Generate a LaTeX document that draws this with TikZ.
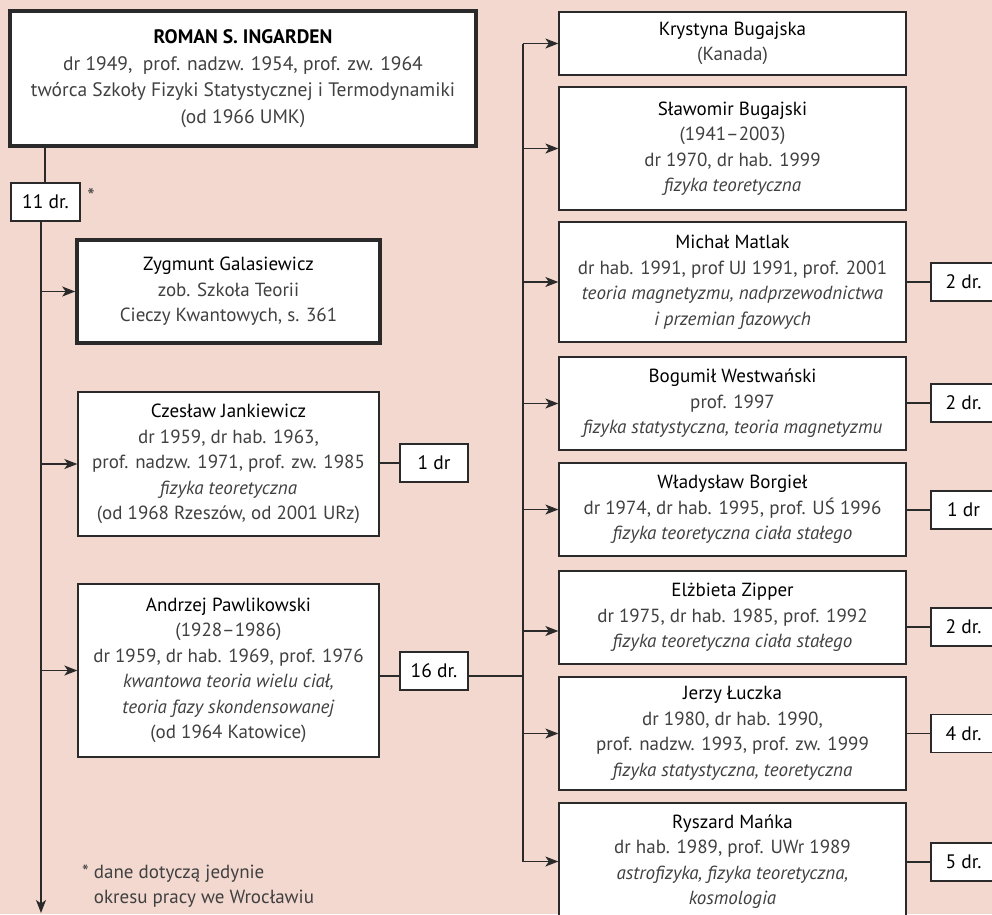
\documentclass[tikz,border=0pt]{standalone}
\usepackage{fontspec}
\setmainfont{PT Sans}
\usetikzlibrary{arrows.meta,calc}
\definecolor{bgpink}{HTML}{F2D8CF}
\definecolor{ink}{HTML}{2A2A2A}
\definecolor{bodytext}{HTML}{404040}
\tikzset{
  every picture/.style={x=1pt,y=-1pt},
  box/.style={draw=ink, line width=1.3pt, fill=white, inner sep=0pt,
    align=center, text=bodytext, font=\fontsize{19}{25.5}\selectfont},
  bigbox/.style={box, line width=3.6pt},
  drbox/.style={draw=ink, line width=1.3pt, fill=white, inner sep=0pt,
    text=black, font=\fontsize{19.5}{22}\selectfont},
  link/.style={draw=ink, line width=1.3pt},
  arr/.style={link, -{Stealth[length=13pt,width=10pt,inset=3.5pt]}},
}
\newcommand{\who}[1]{{\color{black}#1}}
\begin{document}
\begin{tikzpicture}
\useasboundingbox (0,0) rectangle (992,914);
\fill[bgpink] (0,0) rectangle (992,914);
\clip (0,0) rectangle (992,914);

% founder
\node[bigbox, minimum width=466, minimum height=135,
  font=\fontsize{19.5}{26.5}\selectfont] (roman) at (243,78.5)
  {\who{\textbf{ROMAN S. INGARDEN}}\\
   dr 1949,\ \ prof. nadzw. 1954, prof. zw. 1964\\
   twórca Szkoły Fizyki Statystycznej i Termodynamiki\\
   (od 1966 UMK)};
\node[drbox, minimum width=69, minimum height=38] (n11) at (45.5,202) {11 dr.};
\node[text=bodytext, font=\fontsize{21}{22}\selectfont, inner sep=0pt] (star) at (91,196) {*};

% left column
\node[bigbox, minimum width=303, minimum height=103] (zyg) at (228.5,291.5)
  {\who{Zygmunt Galasiewicz}\\ zob. Szkoła Teorii\\ Cieczy Kwantowych, s. 361};
\node[box, minimum width=301, minimum height=144] (czes) at (228.5,464)
  {\who{Czesław Jankiewicz}\\ dr 1959, dr hab. 1963,\\
   prof. nadzw. 1971, prof. zw. 1985\\ \textit{fizyka teoretyczna}\\
   (od 1968 Rzeszów, od 2001 URz)};
\node[drbox, minimum width=68, minimum height=38] (dr1) at (434,463) {1 dr};
\node[box, minimum width=301, minimum height=173] (andrz) at (228.5,670.5)
  {\who{Andrzej Pawlikowski}\\ (1928–1986)\\ dr 1959, dr hab. 1969, prof. 1976\\
   \textit{kwantowa teoria wielu ciał,}\\ \textit{teoria fazy skondensowanej}\\
   (od 1964 Katowice)};
\node[drbox, minimum width=68, minimum height=38] (dr16) at (434,671) {16 dr.};

% right column
\node[box, minimum width=347, minimum height=63] (kry) at (732.5,43.5)
  {\who{Krystyna Bugajska}\\ (Kanada)};
\node[box, minimum width=347, minimum height=123] (slaw) at (732.5,148.5)
  {\who{Sławomir Bugajski}\\ (1941–2003)\\ dr 1970, dr hab. 1999\\ \textit{fizyka teoretyczna}};
\node[box, minimum width=347, minimum height=120] (mich) at (732.5,282)
  {\who{Michał Matlak}\\ dr hab. 1991, prof UJ 1991, prof. 2001\\
   \textit{teoria magnetyzmu, nadprzewodnictwa}\\ \textit{i przemian fazowych}};
\node[box, minimum width=347, minimum height=93] (west) at (732.5,403.5)
  {\who{Bogumił Westwański}\\ prof. 1997\\ \textit{fizyka statystyczna, teoria magnetyzmu}};
\node[box, minimum width=347, minimum height=93] (borg) at (732.5,509.5)
  {\who{Władysław Borgieł}\\ dr 1974, dr hab. 1995, prof. UŚ 1996\\
   \textit{fizyka teoretyczna ciała stałego}};
\node[box, minimum width=347, minimum height=93] (zipp) at (732.5,617.5)
  {\who{Elżbieta Zipper}\\ dr 1975, dr hab. 1985, prof. 1992\\
   \textit{fizyka teoretyczna ciała stałego}};
\node[box, minimum width=347, minimum height=113] (lucz) at (732.5,733.5)
  {\who{Jerzy Łuczka}\\ dr 1980, dr hab. 1990,\\ prof. nadzw. 1993, prof. zw. 1999\\
   \textit{fizyka statystyczna, teoretyczna}};
\node[box, minimum width=347, minimum height=117] (mank) at (732.5,861.5)
  {\who{Ryszard Mańka}\\ dr hab. 1989, prof. UWr 1989\\
   \textit{astrofizyka, fizyka teoretyczna,}\\ \textit{kosmologia}};

% doctorate counts on the right
\node[drbox, minimum width=65, minimum height=38] (m2) at (963.5,282) {2 dr.};
\node[drbox, minimum width=65, minimum height=38] (w2) at (963.5,403) {2 dr.};
\node[drbox, minimum width=65, minimum height=38] (b1) at (963.5,510) {1 dr};
\node[drbox, minimum width=65, minimum height=38] (z2) at (963.5,627) {2 dr.};
\node[drbox, minimum width=65, minimum height=38] (l4) at (963.5,733.5) {4 dr.};
\node[drbox, minimum width=65, minimum height=38] (r5) at (963.5,862) {5 dr.};

% footnote
\node[anchor=north west, align=left, text=bodytext, inner sep=0pt,
  font=\fontsize{19}{25}\selectfont] (note) at (82,865)
  {* dane dotyczą jedynie\\ \phantom{* }okresu pracy we Wrocławiu};

% trunk of the founder
\coordinate (top) at (45,0);
\coordinate (trunk) at (41,913);
\draw[link] (top |- roman.south) -- (top |- n11.north);
\draw[arr] (trunk |- n11.south) -- (trunk);
\foreach \n in {zyg,czes,andrz}
  \draw[arr] (trunk |- \n.west) -- (\n.west);
\draw[link] (czes.east |- dr1.west) -- (dr1.west);

% bus of Pawlikowski's students
\coordinate (bus) at (523,676);
\draw[link] (andrz.east |- bus) -- (dr16.west |- bus);
\draw[link] (dr16.east |- bus) -- (bus);
\draw[link] (bus |- kry.west) -- (bus |- mank.west);
\foreach \n in {kry,slaw,mich,west,borg,lucz,mank}
  \draw[arr] (bus |- \n.west) -- (\n.west);
\coordinate (zin) at ($(zipp.west)+(0,13.5)$);
\draw[arr] (bus |- zin) -- (zin);

% links to the doctorate counts
\foreach \a/\b in {mich/m2,west/w2,borg/b1,lucz/l4,mank/r5}
  \draw[link] (\a.east |- \b.west) -- (\b.west);
\draw[link] (zipp.east |- z2.west) -- (z2.west);
\end{tikzpicture}
\end{document}
